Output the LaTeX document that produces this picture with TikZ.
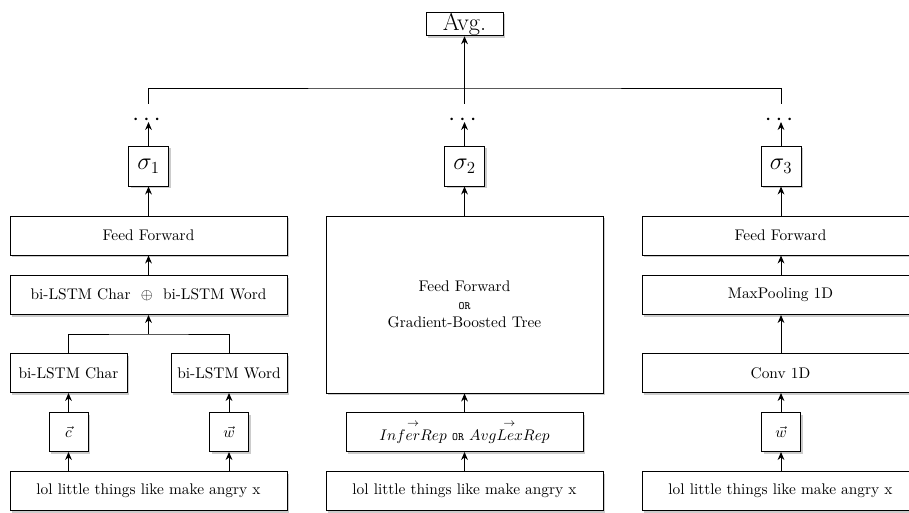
\documentclass[tikz,border=0pt,11pt]{standalone}
\usepackage{amsmath}
\usetikzlibrary{positioning,shadows,arrows.meta}

\tikzset{
    layer/.style={draw, rectangle, line width=0.7pt, fill=white, minimum width=6.925cm, minimum height=0.975cm, align=center,
        drop shadow={shadow xshift=0.5mm, shadow yshift=-0.5mm, opacity=0.4}},
    vecbox/.style={layer, minimum width=0.975cm},
    sigbox/.style={layer, minimum width=1cm, minimum height=1cm, inner sep=1pt, font=\LARGE},
    dotsnode/.style={inner sep=0pt, text height=0.5em, text depth=0pt, minimum height=0.9cm, font=\LARGE},
    flow/.style={line width=0.7pt, -{Stealth[length=2mm, width=1.7mm]}},
    wire/.style={line width=0.7pt}
}

\begin{document}
\begin{tikzpicture}
    \useasboundingbox (0,0) rectangle (22.725,-12.825);

    %% top
    \node[layer, minimum width=1.925cm, minimum height=0.55cm, inner sep=0.5pt, font=\LARGE] (avg) at (11.6125,-0.6) {Avg.};
    \coordinate (hub) at (11.6125,-2.2);

    %% left column
    \node[layer] (in1) at (3.7125,-12.275) {lol little things like make angry x};
    \node[vecbox] (c1) at (1.7125,-10.8) {$\vec{c}$};
    \node[vecbox] (w1) at (5.725,-10.8) {$\vec{w}$};
    \node[layer, minimum width=2.925cm] (lc) at (1.7125,-9.325) {bi-LSTM Char};
    \node[layer, minimum width=2.9cm] (lw) at (5.725,-9.325) {bi-LSTM Word};
    \node[layer] (cat) at (3.7125,-7.375) {bi-LSTM Char ~$\oplus$~ bi-LSTM Word};
    \coordinate[below=0.475cm of cat] (j1);
    \node[layer] (ff1) at (3.7125,-5.8875) {Feed Forward};
    \node[sigbox] (s1) at (3.7125,-4.15) {$\sigma_1$};
    \node[dotsnode] (d1) at (3.7125,-3.05) {$\cdots$};

    %% middle column
    \node[layer] (in2) at (11.6125,-12.275) {lol little things like make angry x};
    \node[layer, minimum width=5.925cm] (rep) at (11.6125,-10.8) {$\overset{\rightarrow}{InferRep}$ {\scriptsize\texttt{OR}} $\overset{\rightarrow}{AvgLexRep}$};
    \node[layer, minimum height=4.425cm] (ff2) at (11.6125,-7.6125) {Feed Forward\\[-1pt] {\scriptsize\texttt{OR}}\\[-1pt] Gradient-Boosted Tree};
    \node[sigbox] (s2) at (11.6125,-4.15) {$\sigma_2$};
    \node[dotsnode] (d2) at (11.6125,-3.05) {$\cdots$};

    %% right column
    \node[layer] (in3) at (19.5125,-12.275) {lol little things like make angry x};
    \node[vecbox] (w3) at (19.525,-10.8) {$\vec{w}$};
    \node[layer] (conv) at (19.5125,-9.325) {Conv 1D};
    \node[layer] (pool) at (19.5125,-7.375) {MaxPooling 1D};
    \node[layer] (ff3) at (19.5125,-5.8875) {Feed Forward};
    \node[sigbox] (s3) at (19.525,-4.15) {$\sigma_3$};
    \node[dotsnode] (d3) at (19.525,-3.05) {$\cdots$};

    %% connectors
    \draw[flow] (in1.north -| c1) -- (c1);
    \draw[flow] (in1.north -| w1) -- (w1);
    \draw[flow] (c1) -- (lc);
    \draw[flow] (w1) -- (lw);
    \draw[wire] (lc.north) |- (j1) -| (lw.north);
    \draw[flow] (j1) -- (cat);
    \draw[flow] (cat) -- (ff1);
    \draw[flow] (ff1) -- (s1);
    \draw[flow] (s1) -- (d1.center);

    \draw[flow] (in2) -- (rep);
    \draw[flow] (rep) -- (ff2);
    \draw[flow] (ff2) -- (s2);
    \draw[flow] (s2) -- (d2.center);

    \draw[flow] (in3.north -| w3) -- (w3);
    \draw[flow] (w3) -- (conv.south -| w3);
    \draw[flow] (conv.north -| w3) -- (pool.south -| w3);
    \draw[flow] (pool.north -| w3) -- (ff3.south -| w3);
    \draw[flow] (ff3.north -| s3) -- (s3);
    \draw[flow] (s3) -- (d3.center);

    \draw[wire] (d1.north) |- (hub) -| (d3.north);
    \draw[flow] (d2.north) -- (avg);
\end{tikzpicture}
\end{document}
